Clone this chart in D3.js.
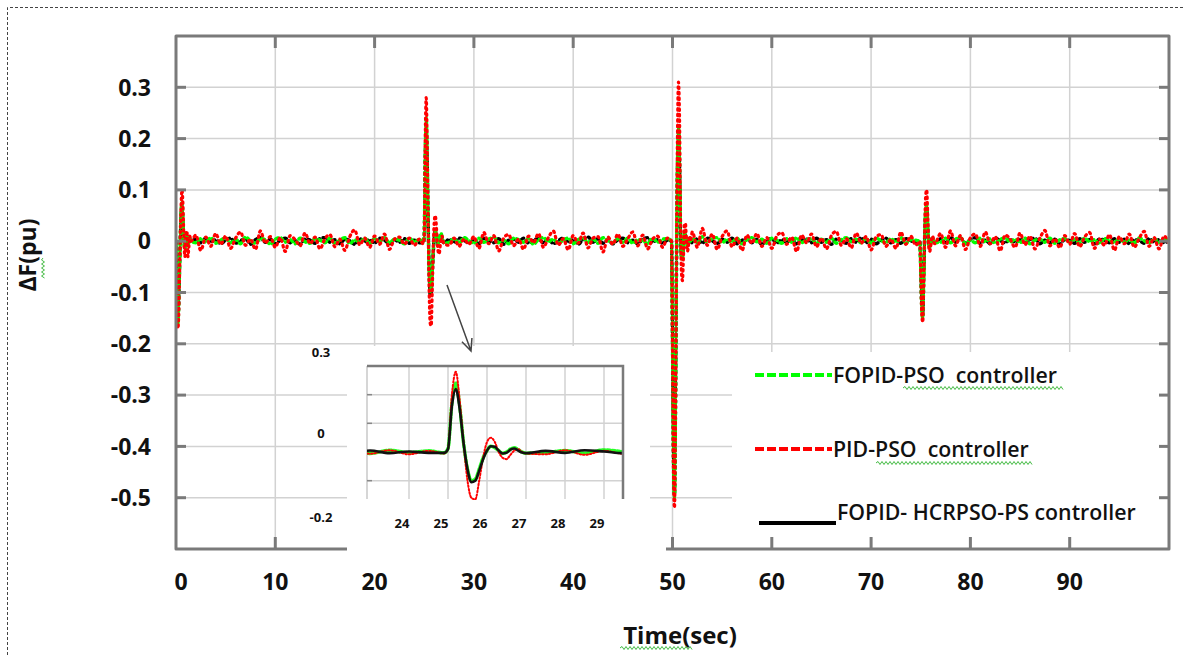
<!DOCTYPE html>
<html><head><meta charset="utf-8">
<script src="https://cdn.jsdelivr.net/npm/d3@7"></script>
<style>
body{margin:0;background:#fff}
svg{display:block}
text{font-family:"Open Sans",sans-serif;fill:#111}
</style>
</head><body>
<svg id="c" width="1183" height="655"></svg>
<script>
// ---------- data ----------
const seriesNames = ["FOPID-PSO  controller", "PID-PSO  controller", "FOPID- HCRPSO-PS controller"];
const seriesColors = ["#00ff00", "#ff0000", "#000000"];
const xTicks = [0, 10, 20, 30, 40, 50, 60, 70, 80, 90];
const yTicks = [0.3, 0.2, 0.1, 0, -0.1, -0.2, -0.3, -0.4, -0.5];
const insetXTicks = [24, 25, 26, 27, 28, 29];
const insetYTicks = [0.3, 0.2, 0.1, 0, -0.1];
const insetYLabels = [0.3, 0, -0.2];

// baseline (between disturbances) sampled every 0.5 s from 0 to 100 s
const noiseGreen = [
 0,0,0,0,-0.003,0.005,-0.002,0.007,-0.004,0.002,
 0.006,-0.003,0.004,-0.005,0.008,0.001,-0.004,0.005,0.003,-0.006,
 0.004,0.007,-0.002,0.003,-0.005,0.006,-0.001,-0.004,0.005,0.002,
 -0.003,0.006,-0.004,0.002,0.007,-0.005,0.003,-0.002,0.006,-0.004,
 0.005,-0.001,0.007,-0.003,0.004,0.002,-0.005,0.006,-0.002,0.004,
 0,0,0,0,0,-0.002,0.005,-0.004,0.007,0.001,
 -0.004,0.006,-0.002,0.004,0.008,-0.003,0.002,-0.005,0.006,0.003,
 -0.002,0.005,-0.006,0.003,0.007,-0.001,0.004,-0.004,0.002,0.006,
 -0.005,0.003,0.006,-0.002,0.004,-0.004,0.007,0.001,-0.003,0.005,
 -0.002,0.006,-0.004,0.003,0.001,-0.005,0.006,-0.002,0.004,0.005,
 0,0,0,0,0.006,-0.004,0.009,-0.002,0.005,0.007,
 -0.003,0.004,-0.002,0.006,-0.005,0.003,0.007,-0.001,0.004,-0.004,
 0.006,0.002,-0.004,0.005,-0.002,0.007,-0.003,0.003,0.005,-0.005,
 0.004,-0.002,0.006,-0.004,0.003,0.007,-0.001,0.004,-0.003,0.005,
 -0.004,0.006,0.001,-0.003,0.005,-0.002,0.007,-0.004,0.003,0.002,
 0,0,0,0,-0.002,0.006,-0.003,0.004,0.007,-0.005,
 0.002,-0.003,0.006,-0.001,0.005,-0.004,0.003,0.007,-0.002,0.004,
 -0.003,0.006,-0.005,0.002,0.004,-0.002,0.006,-0.004,0.003,0.005,
 -0.002,0.004,-0.004,0.006,-0.001,0.003,-0.005,0.005,0.002,-0.003,
 0.005,-0.002,0.004,-0.004,0.006,0.001,-0.003,0.005,-0.002,0.004,
 0.002];
const noiseRed = [
 0,0,0,0,0.012,-0.018,0.008,-0.01,0.015,-0.006,
 0.01,-0.014,0.006,0.018,-0.008,0.004,-0.016,0.02,-0.004,0.009,
 -0.012,0.007,-0.02,0.011,0.003,-0.009,0.016,-0.005,0.008,-0.015,
 0.005,0.013,-0.011,0.004,-0.018,0.009,0.022,-0.007,0.006,-0.012,
 0.01,-0.006,0.014,-0.016,0.004,0.008,-0.006,0.006,-0.008,0.004,
 0,0,0,0,0,-0.008,0.006,-0.01,0.004,-0.006,
 0.009,-0.014,0.017,-0.005,0.011,-0.019,0.006,0.013,-0.009,0.004,
 -0.016,0.01,-0.003,0.015,-0.012,0.007,0.02,-0.008,0.005,-0.017,
 0.011,-0.004,0.016,-0.013,0.006,0.009,-0.021,0.008,-0.006,0.014,
 -0.01,0.005,0.018,-0.009,0.012,-0.015,0.004,0.01,-0.012,0.006,
 0,0,0,0,0.018,-0.012,0.025,-0.008,0.014,-0.016,
 0.009,0.02,-0.011,0.006,-0.018,0.012,-0.004,0.015,-0.01,0.007,
 -0.014,0.01,0.017,-0.006,0.008,-0.02,0.012,-0.003,0.014,-0.011,
 0.006,-0.015,0.011,0.019,-0.008,0.005,-0.013,0.016,-0.004,0.009,
 -0.017,0.008,0.013,-0.01,0.004,-0.014,0.018,-0.006,0.01,-0.008,
 0,0,0,0,0.015,-0.012,0.02,-0.009,0.011,-0.016,
 0.007,0.014,-0.01,0.018,-0.005,0.009,-0.019,0.012,0.004,-0.012,
 0.016,-0.007,0.01,-0.015,0.006,0.021,-0.009,0.005,-0.013,0.011,
 -0.006,0.015,-0.011,0.008,0.017,-0.014,0.004,-0.008,0.013,-0.018,
 0.009,-0.005,0.014,-0.012,0.006,0.019,-0.01,0.007,-0.015,0.01,
 -0.004];
const noiseBlack = [
 0,0,0,0,0.004,-0.003,0.006,-0.002,0.003,-0.005,
 0.002,0.006,-0.004,0.001,0.005,-0.006,0.003,0.007,-0.002,0.004,
 -0.005,0.002,0.006,-0.003,0.001,-0.006,0.004,0.002,-0.004,0.005,
 0.007,-0.002,0.003,-0.005,0.004,0.001,-0.006,0.005,-0.001,0.003,
 -0.004,0.006,0.002,-0.005,0.003,-0.002,0.005,-0.004,0.002,-0.003,
 0,0,0,0,0,0.004,-0.003,0.006,0.002,-0.004,
 0.003,-0.005,0.006,0.001,-0.003,0.005,-0.006,0.002,0.004,-0.002,
 0.006,-0.004,0.002,0.005,-0.003,0.004,-0.005,0.001,0.006,-0.002,
 0.003,-0.006,0.004,0.008,-0.002,0.005,-0.004,0.002,-0.005,0.003,
 0.006,-0.003,0.002,-0.005,0.004,0.007,-0.002,0.003,-0.004,0.002,
 0,0,0,0,-0.003,0.005,-0.004,0.006,0.001,-0.005,
 0.004,-0.002,0.006,-0.005,0.002,0.005,-0.003,0.004,-0.006,0.002,
 0.005,-0.004,0.003,-0.002,0.006,-0.005,0.002,0.004,-0.003,0.006,
 -0.002,0.003,-0.006,0.004,0.001,-0.004,0.005,-0.002,0.007,-0.003,
 0.004,-0.005,0.002,0.006,-0.003,0.003,-0.004,0.005,0.001,-0.003,
 0,0,0,0,0.005,-0.003,0.008,-0.002,0.006,-0.004,
 0.003,0.007,-0.004,0.002,-0.005,0.006,0.001,-0.003,0.004,-0.002,
 0.005,-0.004,0.003,0.006,-0.005,0.002,-0.003,0.004,-0.006,0.003,
 0.001,-0.004,0.005,-0.002,0.003,-0.005,0.004,0.002,-0.003,0.005,
 -0.002,0.004,-0.005,0.003,0.001,-0.004,0.005,-0.002,0.003,-0.003,
 0.001];

// load-disturbance responses (t = 0, 25, 50, 75 s), sampled every 0.1 s
const eventTime = [
 0,0.1,0.2,0.3,0.4,0.5,0.6,0.7,0.8,0.9,1.0,1.1,1.2,1.3,1.4,1.5,
 24.9,25.0,25.1,25.2,25.3,25.4,25.5,25.6,25.7,25.8,25.9,26.0,26.1,26.2,26.3,26.4,26.5,26.6,26.7,26.8,26.9,27.0,
 49.9,50.0,50.1,50.2,50.3,50.4,50.5,50.6,50.7,50.8,50.9,51.0,51.1,51.2,51.3,51.4,51.5,51.6,51.7,51.8,
 74.9,75.0,75.1,75.2,75.3,75.4,75.5,75.6,75.7,75.8,75.9,76.0,76.1,76.2,76.3,76.4];
const eventGreen = [
 0,-0.09,-0.16,-0.10,-0.02,0.05,0.075,0.04,0.0,-0.015,0.005,0.01,-0.01,0,0.005,0,
 -0.003,0.012,0.17,0.24,0.16,0.03,-0.06,-0.10,-0.095,-0.06,-0.02,0.005,0.02,0.015,0.005,-0.005,0.0,0.01,0.015,0.008,0.0,-0.004,
 0.0,-0.19,-0.43,-0.50,-0.33,-0.05,0.15,0.222,0.17,0.03,-0.03,-0.035,-0.01,0.015,0.015,0.0,-0.008,-0.004,0.005,0.0,
 0.0,-0.055,-0.13,-0.15,-0.075,0.015,0.06,0.07,0.035,-0.005,-0.012,-0.005,0.004,0.006,0.0,-0.003];
const eventRed = [
 0,-0.10,-0.17,-0.12,-0.02,0.06,0.10,0.07,0.0,-0.03,0.01,0.02,-0.03,-0.01,0.01,0.0,
 -0.005,0.01,0.20,0.28,0.18,0.03,-0.10,-0.16,-0.165,-0.10,-0.02,0.035,0.05,0.035,0.0,-0.02,-0.025,-0.01,0.005,0.01,0.0,-0.005,
 0.0,-0.2,-0.45,-0.52,-0.35,-0.05,0.2,0.31,0.25,0.05,-0.06,-0.077,-0.03,0.03,0.035,0.0,-0.02,-0.01,0.01,0.0,
 0.0,-0.06,-0.14,-0.158,-0.08,0.02,0.09,0.10,0.05,-0.01,-0.02,-0.01,0.005,0.01,0.0,-0.005];
const eventBlack = [
 0,-0.09,-0.155,-0.10,-0.02,0.045,0.07,0.035,0.0,-0.01,0.005,0.008,-0.006,0,0.004,0,
 -0.003,0.01,0.16,0.22,0.15,0.03,-0.06,-0.105,-0.10,-0.065,-0.025,0.005,0.02,0.018,0.005,-0.005,-0.003,0.008,0.012,0.005,-0.002,-0.004,
 0.0,-0.19,-0.42,-0.495,-0.32,-0.05,0.14,0.215,0.16,0.03,-0.03,-0.03,-0.01,0.012,0.012,0.0,-0.006,-0.002,0.004,0.0,
 0.0,-0.05,-0.125,-0.145,-0.07,0.012,0.058,0.066,0.03,-0.005,-0.01,-0.004,0.004,0.006,0.0,-0.003];

// ---------- build series ----------
const baseTime = d3.range(0, 100.0001, 0.5);
function merge(base, ev) {
  const pts = baseTime.map((t, i) => ({t, v: base[i]}))
    .filter(p => !eventTime.some(e => Math.abs(e - p.t) < 0.19));
  eventTime.forEach((t, i) => pts.push({t, v: ev[i]}));
  return pts.sort((a, b) => a.t - b.t);
}
const green = merge(noiseGreen, eventGreen);
const red = merge(noiseRed, eventRed);
const black = merge(noiseBlack, eventBlack);

// ---------- drawing ----------
const svg = d3.select("#c");
const L = 176, R = 1169, T = 36, B = 549;
const x = d3.scaleLinear().domain([0, 100]).range([L, R]);
const y = d3.scaleLinear().domain([-0.6, 0.4]).range([B, T]);

// outer dashed border
svg.append("path").attr("d", `M7.5,700 V7.5 H1200`)
  .attr("fill", "none").attr("stroke", "#444").attr("stroke-width", 1).attr("stroke-dasharray", "3,2");

// grid
const grid = svg.append("g").attr("stroke", "#d2d2d2").attr("stroke-width", 1.5);
grid.selectAll(".gx").data(xTicks.filter(d => d > 0)).join("line")
  .attr("x1", d => x(d)).attr("x2", d => x(d)).attr("y1", T).attr("y2", B);
grid.selectAll(".gy").data(yTicks).join("line")
  .attr("x1", L).attr("x2", R).attr("y1", d => y(d)).attr("y2", d => y(d));

// data
svg.append("clipPath").attr("id", "clipMain").append("rect")
  .attr("x", L).attr("y", T).attr("width", R - L).attr("height", B - T);
const line = d3.line().x(d => x(d.t)).y(d => y(d.v)).curve(d3.curveMonotoneX);
const dg = svg.append("g").attr("clip-path", "url(#clipMain)").attr("fill", "none").attr("stroke-linecap", "round");
dg.append("path").datum(black).attr("d", line).attr("stroke", "#000").attr("stroke-width", 3.4).attr("stroke-dasharray", "2.5,3.5");
dg.append("path").datum(green).attr("d", line).attr("stroke", "#00ff00").attr("stroke-width", 3.4).attr("stroke-dasharray", "2.5,3.5").attr("stroke-dashoffset", 2);
dg.append("path").datum(red).attr("d", line).attr("stroke", "#ff0000").attr("stroke-width", 3.2).attr("stroke-dasharray", "1.5,4").attr("stroke-dashoffset", 4);

// legend background
svg.append("rect").attr("x", 732).attr("y", 352).attr("width", 434).attr("height", 193).attr("fill", "#fff");

// frame
const fr = svg.append("g").attr("stroke", "#7a7a7a").attr("stroke-width", 3).attr("fill", "none");
fr.append("path").attr("d", `M347,${B} H${L} V${T} H${R} V${B} H666`).attr("stroke-linejoin", "round");
fr.selectAll(".tt").data(xTicks.filter(d => d > 0)).join("line")
  .attr("x1", d => x(d)).attr("x2", d => x(d)).attr("y1", T).attr("y2", T + 12);
fr.selectAll(".tb").data(xTicks.filter(d => d > 0)).join("line")
  .attr("x1", d => x(d)).attr("x2", d => x(d)).attr("y1", B).attr("y2", B - 12);
fr.selectAll(".tl").data(yTicks).join("line")
  .attr("x1", L).attr("x2", L + 10).attr("y1", d => y(d)).attr("y2", d => y(d));
fr.selectAll(".tr").data(yTicks).join("line")
  .attr("x1", R).attr("x2", R - 10).attr("y1", d => y(d)).attr("y2", d => y(d));

// tick labels
svg.append("g").selectAll("text").data(xTicks).join("text")
  .attr("x", d => x(d) + (d === 0 ? 5 : 0)).attr("y", 590).attr("text-anchor", "middle")
  .style("font-size", "23px").style("font-weight", 700).text(d => d);
svg.append("g").selectAll("text").data(yTicks).join("text")
  .attr("x", 151).attr("y", d => y(d)).attr("dy", "0.36em").attr("text-anchor", "end")
  .style("font-size", "23px").style("font-weight", 700).text(d => d);

// axis titles
svg.append("text").attr("x", 680).attr("y", 644).attr("text-anchor", "middle")
  .style("font-size", "24px").style("font-weight", 700).text("Time(sec)");
svg.append("text").attr("transform", "translate(36,255) rotate(-90)").attr("text-anchor", "middle")
  .style("font-size", "23px").style("font-weight", 700).text("ΔF(pu)");

// spell-check squiggles (as in the picture)
function squiggleH(x0, x1, yy) {
  let d = `M${x0},${yy}`;
  for (let xx = x0 + 2, k = 0; xx <= x1; xx += 2, k++) d += ` L${xx},${yy + (k % 2 ? 1.5 : -1.5)}`;
  return d;
}
function squiggleV(xx, y0, y1) {
  let d = `M${xx},${y0}`;
  for (let yy = y0 + 2, k = 0; yy <= y1; yy += 2, k++) d += ` L${xx + (k % 2 ? 1.5 : -1.5)},${yy}`;
  return d;
}
const sq = svg.append("g").attr("fill", "none").attr("stroke", "#44bb44").attr("stroke-width", 1);
sq.append("path").attr("d", squiggleH(620, 692, 648));
sq.append("path").attr("d", squiggleH(903, 1063, 388));
sq.append("path").attr("d", squiggleH(876, 1033, 463));
sq.append("path").attr("d", squiggleV(43, 258, 278));

// legend
const legY = [375, 449, 523];
const leg = svg.append("g");
seriesNames.forEach((name, i) => {
  const ly = legY[i];
  const x0 = i === 2 ? 759 : 755;
  leg.append("line").attr("x1", x0).attr("x2", x0 + 77).attr("y1", ly).attr("y2", ly)
    .attr("stroke", seriesColors[i]).attr("stroke-width", 4)
    .attr("stroke-dasharray", i === 2 ? null : "9,3");
  leg.append("text").attr("x", x0 + 78).attr("y", ly + (i === 2 ? -3 : 8))
    .style("font-size", "21.3px").style("font-weight", 600).style("white-space", "pre").text(name);
});

// inset
const IL = 367, IR = 623, IT = 366, IB = 499;
svg.append("rect").attr("x", 347).attr("y", 346).attr("width", 303).attr("height", 207).attr("fill", "#fff");
const xi = d3.scaleLinear().domain([24, 29]).range([409, 604]);
const yi = d3.scaleLinear().domain([0, 0.3]).range([452, IT]);
const ig = svg.append("g");
ig.append("g").attr("stroke", "#d2d2d2").attr("stroke-width", 1.5).selectAll("line").data(insetXTicks).join("line")
  .attr("x1", d => xi(d)).attr("x2", d => xi(d)).attr("y1", IT).attr("y2", IB);
ig.append("g").attr("stroke", "#d2d2d2").attr("stroke-width", 1.5).selectAll("line").data(insetYTicks.slice(1)).join("line")
  .attr("x1", IL).attr("x2", IR).attr("y1", d => yi(d)).attr("y2", d => yi(d));
ig.append("line").attr("x1", IL).attr("x2", IL).attr("y1", IT).attr("y2", IB).attr("stroke", "#c8c8c8").attr("stroke-width", 1.5);
ig.append("g").attr("stroke", "#888").attr("stroke-width", 1.5).selectAll("line").data(insetYTicks.slice(1)).join("line")
  .attr("x1", IL).attr("x2", IL + 5).attr("y1", d => yi(d)).attr("y2", d => yi(d));
svg.append("clipPath").attr("id", "clipInset").append("rect")
  .attr("x", IL).attr("y", IT).attr("width", IR - IL).attr("height", IB - IT + 1);
const iline = d3.line().x(d => xi(d.t)).y(d => yi(d.v)).curve(d3.curveMonotoneX);
const idg = ig.append("g").attr("clip-path", "url(#clipInset)").attr("fill", "none").attr("stroke-linecap", "round");
idg.append("path").datum(green).attr("d", iline).attr("stroke", "#00ff00").attr("stroke-width", 3.5).attr("stroke-dasharray", "3,2").attr("stroke-opacity", 0.85);
idg.append("path").datum(red).attr("d", iline).attr("stroke", "#ff0000").attr("stroke-width", 2).attr("stroke-dasharray", "1.5,2");
idg.append("path").datum(black).attr("d", iline).attr("stroke", "#111").attr("stroke-width", 2.6);
ig.append("path").attr("d", `M${IL},${IT} H${IR} V${IB}`).attr("fill", "none").attr("stroke", "#7a7a7a").attr("stroke-width", 2.5);
ig.append("g").selectAll("text").data(insetXTicks).join("text")
  .attr("x", d => xi(d) - 7).attr("y", 528).attr("text-anchor", "middle")
  .style("font-size", "13px").style("font-weight", 700).text(d => d);
const yLab = d3.scaleLinear().domain([-0.2, 0, 0.3]).range([517, 433, 352]);
ig.append("g").selectAll("text").data(insetYLabels).join("text")
  .attr("x", 321).attr("y", d => yLab(d)).attr("dy", "0.36em").attr("text-anchor", "middle")
  .style("font-size", "13px").style("font-weight", 700).text(d => d);

// arrow pointing to the zoomed disturbance
const ax0 = 447, ay0 = 285, ax1 = 471, ay1 = 351;
const ang = Math.atan2(ay1 - ay0, ax1 - ax0);
const hl = 13, ha = 0.42;
svg.append("path")
  .attr("d", `M${ax0},${ay0} L${ax1},${ay1} M${ax1 - hl * Math.cos(ang - ha)},${ay1 - hl * Math.sin(ang - ha)} L${ax1},${ay1} L${ax1 - hl * Math.cos(ang + ha)},${ay1 - hl * Math.sin(ang + ha)}`)
  .attr("fill", "none").attr("stroke", "#444").attr("stroke-width", 1.5);
</script>
</body></html>
